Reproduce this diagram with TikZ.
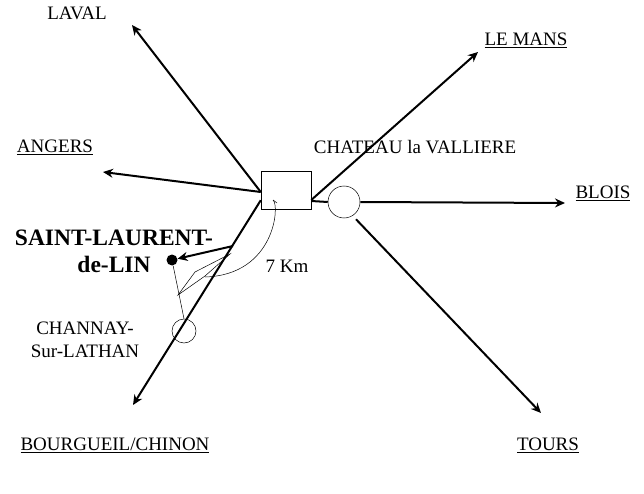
\documentclass[tikz,border=0pt]{standalone}
\usepackage{fontspec}
\setmainfont{Liberation Serif}
\usetikzlibrary{arrows.meta}
\tikzset{
  road/.style={line width=2pt, -{Stealth[length=10pt,width=9pt]}},
  town/.style={font=\fontsize{19}{23}\selectfont, inner sep=1pt},
  thin/.style={line width=0.5pt}
}
\begin{document}
\begin{tikzpicture}[x=1pt,y=-1pt]
\useasboundingbox (0,0) rectangle (644,494);
% centre and nearby
\node[draw, thin, minimum width=50pt, minimum height=38pt] (box) at (286,190) {};
\node[draw, thin, circle, minimum size=32pt, inner sep=0pt] (ring) at (344,202) {};
\node[draw, thin, circle, minimum size=24pt, inner sep=0pt] (chan) at (184,331) {};
\node[fill, circle, minimum size=11pt, inner sep=0pt] (dot) at (172,260) {};

% labels
\node[town] (laval) at (77,13) {LAVAL};
\node[town] (lemans) at (526,40) {\underline{LE MANS}};
\node[town] (angers) at (55,147) {\underline{ANGERS}};
\node[town] (chat) at (415,147) {CHATEAU la VALLIERE};
\node[town] (blois) at (603,193) {\underline{BLOIS}};
\node[town] (bourg) at (115,445) {\underline{BOURGUEIL/CHINON}};
\node[town] (tours) at (548,445) {\underline{TOURS}};
\node[town, font=\fontsize{23.5}{27}\selectfont\bfseries, align=center] (saint) at (114,251) {SAINT-LAURENT-\\de-LIN};
\node[town, align=center] (channay) at (85,340) {CHANNAY-\\Sur-LATHAN};
\node[town] (km) at (287,266) {7 Km};

% roads
\coordinate (pLaval) at (132,25);
\coordinate (pAngers) at (103,172);
\coordinate (pBourg) at (133,405);
\coordinate (pMans) at (478,52);
\coordinate (pBlois) at (565,203);
\coordinate (pTours) at (541,413);
\coordinate (pSaint) at (233,246);
\draw[road] (box.west) ++(0,2) -- (pLaval);
\draw[road] (box.west) ++(0,2) -- (pAngers);
\draw[road] (box.south west) ++(0,-9) -- (pBourg);
\draw[road] (box.east) ++(0,10) -- (pMans);
\draw[line width=2pt] (box.east) ++(0,11) -- (ring.west);
\draw[road] (ring.east) -- (pBlois);
\draw[road] (ring.south) ++(12,1) -- (pTours);
\draw[road] (pSaint) -- (dot);

% local detail
\draw[thin] (dot) -- (chan.north);
\draw[thin] (178,295) -- (195,272) -- (230,254) -- (205,276) -- cycle;
\draw[thin] (273,200) .. controls (280,205) and (275,275) .. (205,277);
\draw[thin] (273,200) -- (277,203);
\end{tikzpicture}
\end{document}
